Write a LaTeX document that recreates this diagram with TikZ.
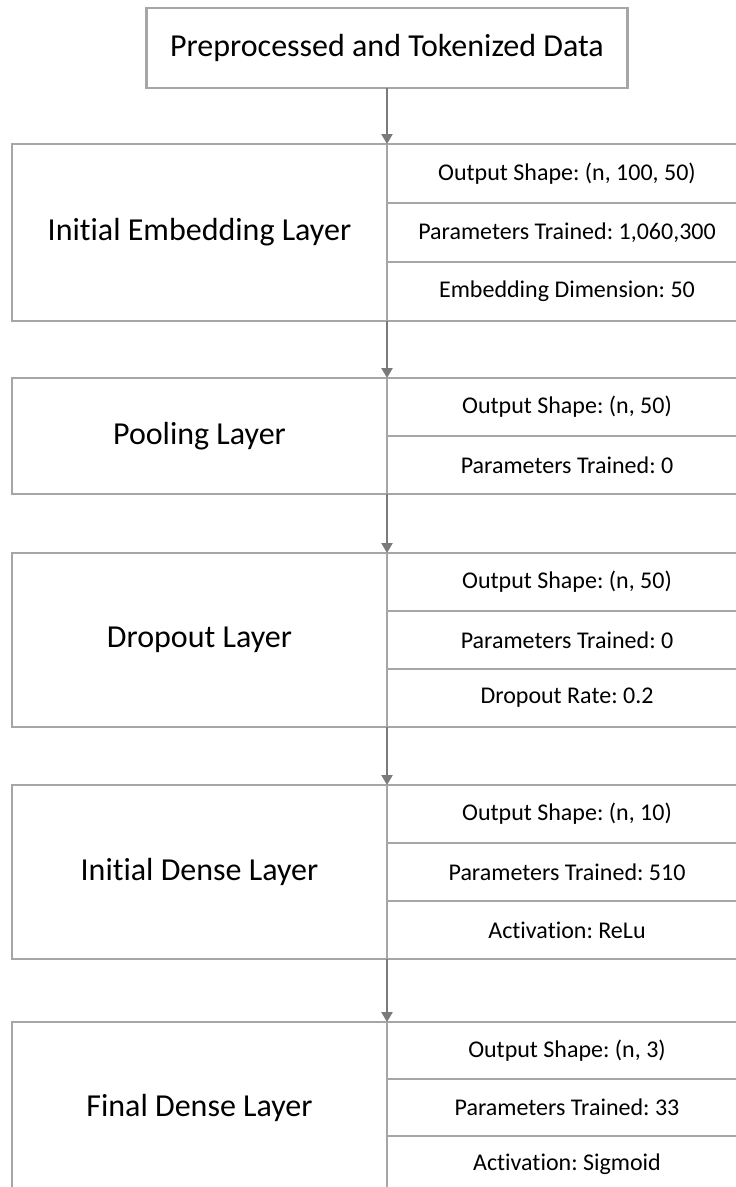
\documentclass[tikz,border=0pt]{standalone}
\usepackage{fontspec}
\setmainfont{Carlito}[Ligatures=NoCommon]
\usetikzlibrary{arrows.meta, positioning}
\definecolor{boxgray}{HTML}{A6A6A6}
\definecolor{arrowgray}{HTML}{7A7A7A}
\frenchspacing

\begin{document}
\begin{tikzpicture}[x=1pt, y=-1pt,
    box/.style={draw=boxgray, line width=2.4pt, inner sep=0pt, outer sep=0pt},
    layer/.style={box, minimum width=375pt, minimum height=#1, font=\fontsize{32}{38}\selectfont},
    info/.style={box, minimum width=360pt, minimum height=#1, font=\fontsize{24}{29}\selectfont},
    flow/.style={draw=arrowgray, line width=2.8pt, -{Triangle[length=10pt, width=11pt]}}]
    \path[use as bounding box] (0,0) rectangle (736,1187);
    \clip (0,0) rectangle (736,1187);
    \node[box, line width=2.8pt, minimum width=481pt, minimum height=80pt, font=\fontsize{32}{38}\selectfont](l0) at (387,48){Preprocessed and Tokenized Data};
    % embedding
    \node[layer=177pt, anchor=north west](l1) at (12,144){Initial Embedding Layer};
    \node[info=59pt, anchor=north west](l1a) at (l1.north east){Output Shape: (n, 100, 50)};
    \node[info=59pt, below=0pt of l1a](l1b){Parameters Trained: 1,060,300};
    \node[info=59pt, below=0pt of l1b](l1c){Embedding Dimension: 50};
    % pooling
    \node[layer=116pt, anchor=north west](l2) at (12,378){Pooling Layer};
    \node[info=58pt, anchor=north west](l2a) at (l2.north east){Output Shape: (n, 50)};
    \node[info=58pt, below=0pt of l2a](l2b){Parameters Trained: 0};
    % dropout
    \node[layer=174pt, anchor=north west](l3) at (12,553){Dropout Layer};
    \node[info=58pt, anchor=north west](l3a) at (l3.north east){Output Shape: (n, 50)};
    \node[info=58pt, below=0pt of l3a](l3b){Parameters Trained: 0};
    \node[info=58pt, below=0pt of l3b](l3c){Dropout Rate: 0.2};
    % dense
    \node[layer=174pt, anchor=north west](l4) at (12,785){Initial Dense Layer};
    \node[info=58pt, anchor=north west](l4a) at (l4.north east){Output Shape: (n, 10)};
    \node[info=58pt, below=0pt of l4a](l4b){Parameters Trained: 510};
    \node[info=58pt, below=0pt of l4b](l4c){Activation: ReLu};
    % output
    \node[layer=171pt, anchor=north west](l5) at (12,1022){Final Dense Layer};
    \node[info=57pt, anchor=north west](l5a) at (l5.north east){Output Shape: (n, 3)};
    \node[info=57pt, below=0pt of l5a](l5b){Parameters Trained: 33};
    \node[info=57pt, below=0pt of l5b](l5c){Activation: Sigmoid};
    \draw[flow] (l0.south) -- (l1.north east);
    \draw[flow] (l1.south east) -- (l2.north east);
    \draw[flow] (l2.south east) -- (l3.north east);
    \draw[flow] (l3.south east) -- (l4.north east);
    \draw[flow] (l4.south east) -- (l5.north east);
\end{tikzpicture}
\end{document}
